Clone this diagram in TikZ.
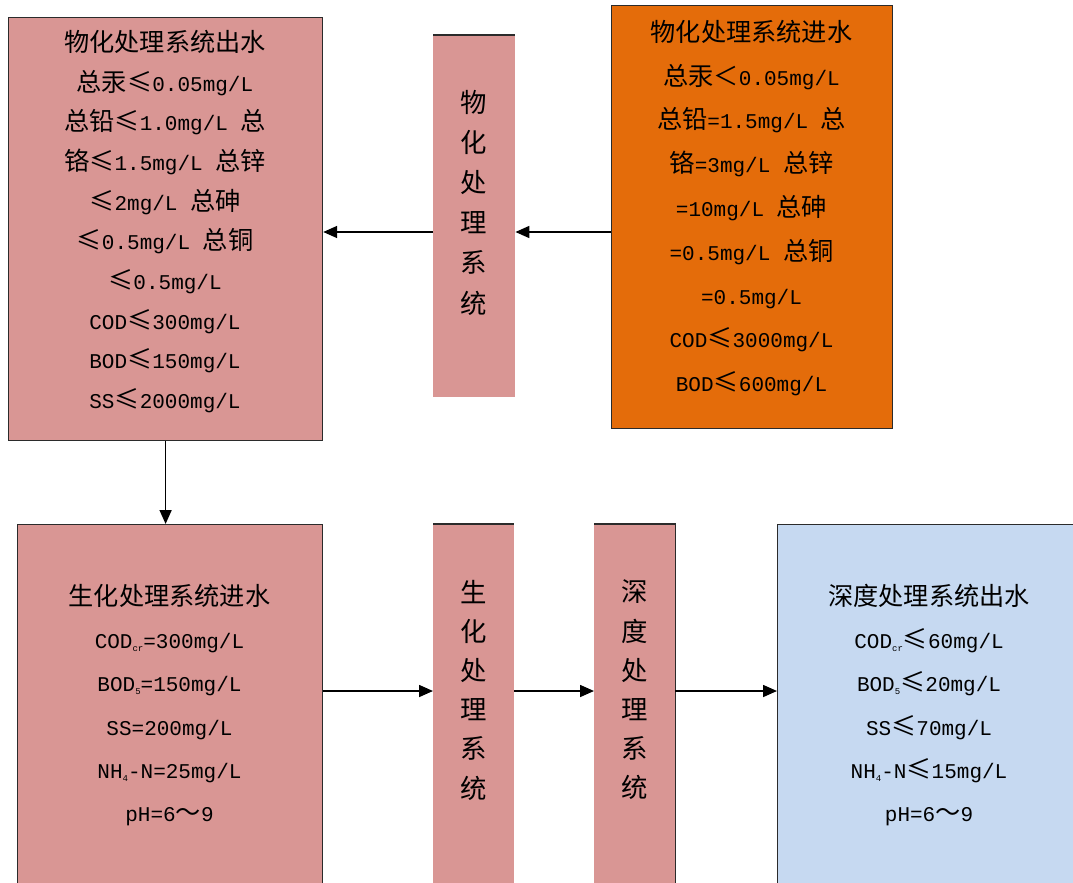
\documentclass[tikz,border=0pt]{standalone}
\usepackage{fontspec}
\setmainfont{Liberation Mono}
\newfontfamily\cjk[Scale=1.2]{Noto Sans CJK SC}
\usetikzlibrary{arrows.meta}
\definecolor{pinkfill}{HTML}{D99694}
\definecolor{orangefill}{HTML}{E46C0A}
\definecolor{bluefill}{HTML}{C6D9F1}
\definecolor{edgecol}{HTML}{2B2B2B}
\newcommand{\subs}[1]{\raisebox{-0.25ex}{\fontsize{9}{9}\selectfont #1}}
\begin{document}
\begin{tikzpicture}[x=1pt,y=-1pt,
  box/.style={draw=edgecol, line width=1.2pt, anchor=north west, inner sep=0pt},
  bar/.style={fill=pinkfill, anchor=north west, inner sep=0pt},
  barline/.style={draw=edgecol, line width=1.2pt},
  txt/.style={align=center, text=black, inner sep=0pt},
  bartxt/.style={align=center, text=black, inner sep=0pt, font=\fontsize{22}{40.2}\selectfont},
  arr/.style={-{Triangle[length=14pt,width=12pt]}, line width=1.6pt, draw=black}]
\useasboundingbox (0,0) rectangle (1073,883);

% boxes
\node[box, fill=pinkfill, minimum width=314pt, minimum height=423pt] (tl) at (8,17) {};
\node[box, fill=orangefill, minimum width=281pt, minimum height=423pt] (tr) at (611,5) {};
\node[bar, minimum width=82pt, minimum height=362pt] (b1) at (433,35) {};
\node[box, fill=pinkfill, minimum width=305pt, minimum height=370pt] (bl) at (17,524) {};
\node[bar, minimum width=81pt, minimum height=370pt] (b2) at (433,524) {};
\node[bar, minimum width=81pt, minimum height=370pt] (b3) at (594,524) {};
\node[box, fill=bluefill, minimum width=310pt, minimum height=370pt] (bx) at (777,524) {};

\draw[barline] (b1.north west) -- (b1.north east);
\draw[barline] (b2.north west) -- (b2.north east);
\draw[barline] (b3.north west) -- (b3.north east) -- (b3.south east);

% texts
\node[txt, font=\fontsize{21}{39.7}\selectfont] (tlt) at (165,221.5) {%
{\cjk 物化处理系统出水}\\
{\cjk 总汞≤}0.05mg/L\\
{\cjk 总铅≤}1.0mg/L {\cjk 总}\\
{\cjk 铬≤}1.5mg/L {\cjk 总锌}\\
{\cjk ≤}2mg/L {\cjk 总砷}\\
{\cjk ≤}0.5mg/L {\cjk 总铜}\\
{\cjk ≤}0.5mg/L\\
COD{\cjk ≤}300mg/L\\
BOD{\cjk ≤}150mg/L\\
SS{\cjk ≤}2000mg/L};

\node[txt, font=\fontsize{21}{43.8}\selectfont] (trt) at (751.5,208) {%
{\cjk 物化处理系统进水}\\
{\cjk 总汞＜}0.05mg/L\\
{\cjk 总铅}=1.5mg/L {\cjk 总}\\
{\cjk 铬}=3mg/L {\cjk 总锌}\\
=10mg/L {\cjk 总砷}\\
=0.5mg/L {\cjk 总铜}\\
=0.5mg/L\\
COD{\cjk ≤}3000mg/L\\
BOD{\cjk ≤}600mg/L};

\node[bartxt] (b1t) at (474,202.5) {%
{\cjk 物}\\{\cjk 化}\\{\cjk 处}\\{\cjk 理}\\{\cjk 系}\\{\cjk 统}};

\node[txt, font=\fontsize{21}{43.2}\selectfont] (blt) at (169.5,705) {%
{\cjk 生化处理系统进水}\\
COD\subs{cr}=300mg/L\\
BOD\subs{5}=150mg/L\\
SS=200mg/L\\
NH\subs{4}-N=25mg/L\\
pH=6{\cjk ～}9};

\node[bartxt, font=\fontsize{22}{39.2}\selectfont] (b2t) at (474,690) {%
{\cjk 生}\\{\cjk 化}\\{\cjk 处}\\{\cjk 理}\\{\cjk 系}\\{\cjk 统}};

\node[bartxt, font=\fontsize{22}{39.2}\selectfont] (b3t) at (634.5,690) {%
{\cjk 深}\\{\cjk 度}\\{\cjk 处}\\{\cjk 理}\\{\cjk 系}\\{\cjk 统}};

\node[txt, font=\fontsize{21}{43.2}\selectfont] (bxt) at (929,705) {%
{\cjk 深度处理系统出水}\\
COD\subs{cr}{\cjk ≤}60mg/L\\
BOD\subs{5}{\cjk ≤}20mg/L\\
SS{\cjk ≤}70mg/L\\
NH\subs{4}-N{\cjk ≤}15mg/L\\
pH=6{\cjk ～}9};

% connectors
\coordinate (ya) at (0,232);
\coordinate (yb) at (0,691);
\draw[arr] (tr.west |- ya) -- (b1.east |- ya);
\draw[arr] (b1.west |- ya) -- (tl.east |- ya);
\draw[arr] (tl.south) -- (tl.south |- bl.north);
\draw[arr] (bl.east |- yb) -- (b2.west |- yb);
\draw[arr] (b2.east |- yb) -- (b3.west |- yb);
\draw[arr] (b3.east |- yb) -- (bx.west |- yb);
\end{tikzpicture}
\end{document}
